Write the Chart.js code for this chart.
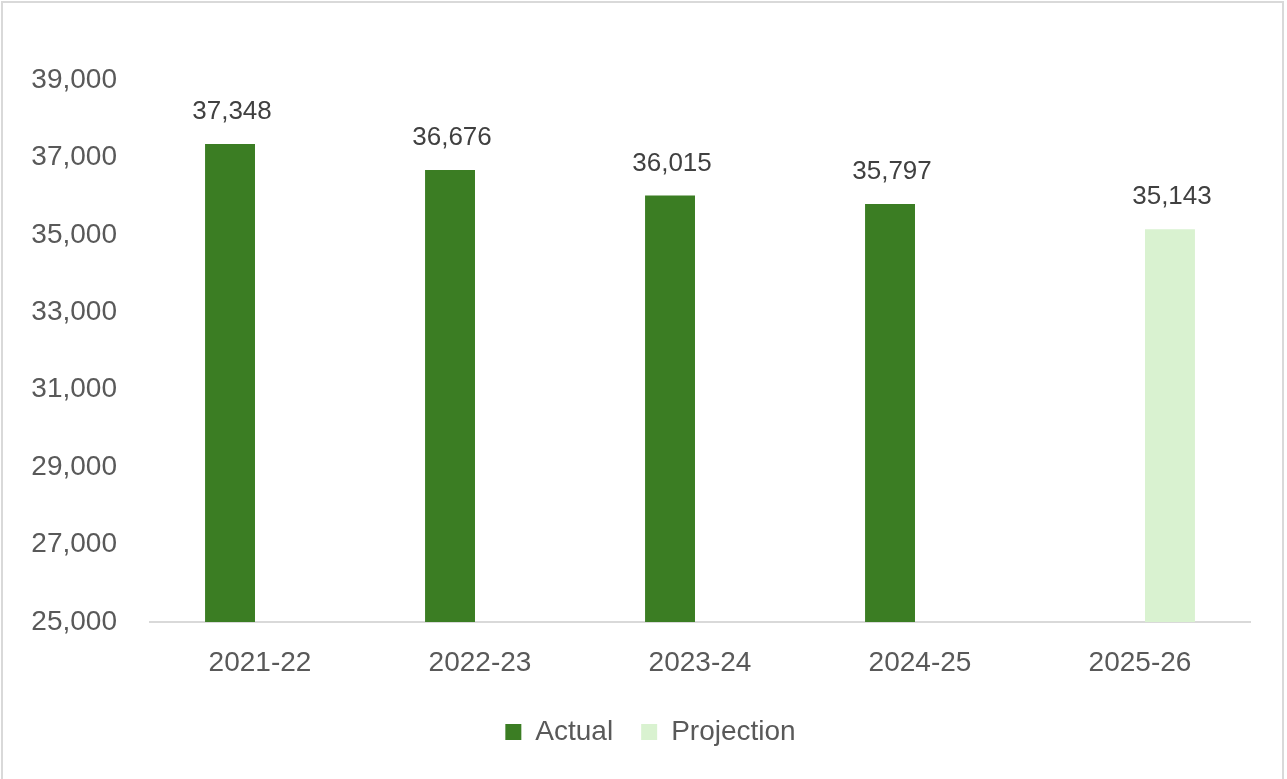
<!DOCTYPE html>
<html>
<head>
<meta charset="utf-8">
<script src="https://cdn.jsdelivr.net/npm/chart.js@4.4.1/dist/chart.umd.min.js"></script>
<style>
  html, body { margin: 0; padding: 0; background: #ffffff; }
  #frame {
    position: absolute; left: 1px; top: 1px; width: 1283px; height: 800px;
    border: 2px solid #d9d9d9; box-sizing: border-box;
  }
  #wrap { position: absolute; left: 0; top: 0; width: 1287px; height: 779px; }
</style>
</head>
<body>
<div id="frame"></div>
<div id="wrap"><canvas id="chart" width="1287" height="779"></canvas></div>
<script>
// Years, actual enrolments and the projected figure
const categories = ["2021-22", "2022-23", "2023-24", "2024-25", "2025-26"];
const actualValues = [37348, 36676, 36015, 35797, null];
const projectionValues = [null, null, null, null, 35143];
const yTicks = [25000, 27000, 29000, 31000, 33000, 35000, 37000, 39000];

const FONT = "'Liberation Sans', Arial, sans-serif";
const fmt = v => v.toLocaleString('en-US');

// Writes each bar's value just above it
const valueLabels = {
  id: 'valueLabels',
  afterDatasetsDraw(chart) {
    const ctx = chart.ctx;
    ctx.save();
    ctx.font = "26px " + FONT;
    ctx.fillStyle = "#404040";
    ctx.textAlign = "center";
    ctx.textBaseline = "alphabetic";
    chart.data.datasets.forEach((ds, di) => {
      const meta = chart.getDatasetMeta(di);
      meta.data.forEach((bar, i) => {
        const v = ds.data[i];
        if (v == null) return;
        ctx.fillText(fmt(v), bar.x + 2, bar.y - 25);
      });
    });
    ctx.restore();
  }
};

// Centres the legend on the page rather than on the padded layout box
const LEGEND_SHIFT = 13;
const legendShift = {
  id: 'legendShift',
  afterLayout(chart) {
    if (chart.legend) {
      chart.legend.left += LEGEND_SHIFT;
      chart.legend.right += LEGEND_SHIFT;
    }
  }
};

new Chart(document.getElementById('chart'), {
  type: 'bar',
  data: {
    labels: categories,
    datasets: [
      { label: 'Actual', data: actualValues, backgroundColor: '#3b7d23' },
      { label: 'Projection', data: projectionValues, backgroundColor: '#d9f2d0' }
    ]
  },
  options: {
    responsive: false,
    animation: false,
    devicePixelRatio: 1,
    datasets: { bar: { categoryPercentage: 0.545, barPercentage: 0.833 } },
    layout: { padding: { top: 80, right: 37, left: 25, bottom: 23 } },
    plugins: {
      tooltip: { enabled: false },
      legend: {
        position: 'bottom',
        labels: {
          boxWidth: 16, boxHeight: 16, padding: 28,
          color: '#595959',
          font: { family: FONT, size: 28 }
        }
      }
    },
    scales: {
      x: {
        afterFit(scale) { scale.height = 68; },
        grid: { display: false },
        border: { display: true, color: '#d9d9d9', width: 2 },
        ticks: { color: '#595959', font: { family: FONT, size: 28 }, padding: 16 }
      },
      y: {
        min: 25000, max: 39000,
        afterFit(scale) { scale.width = 125; },
        afterBuildTicks(scale) { scale.ticks = yTicks.map(v => ({ value: v })); },
        grid: { display: false },
        border: { display: false },
        ticks: {
          color: '#595959', font: { family: FONT, size: 28 }, padding: 25,
          callback: v => fmt(v)
        }
      }
    }
  },
  plugins: [valueLabels, legendShift]
});
</script>
</body>
</html>
